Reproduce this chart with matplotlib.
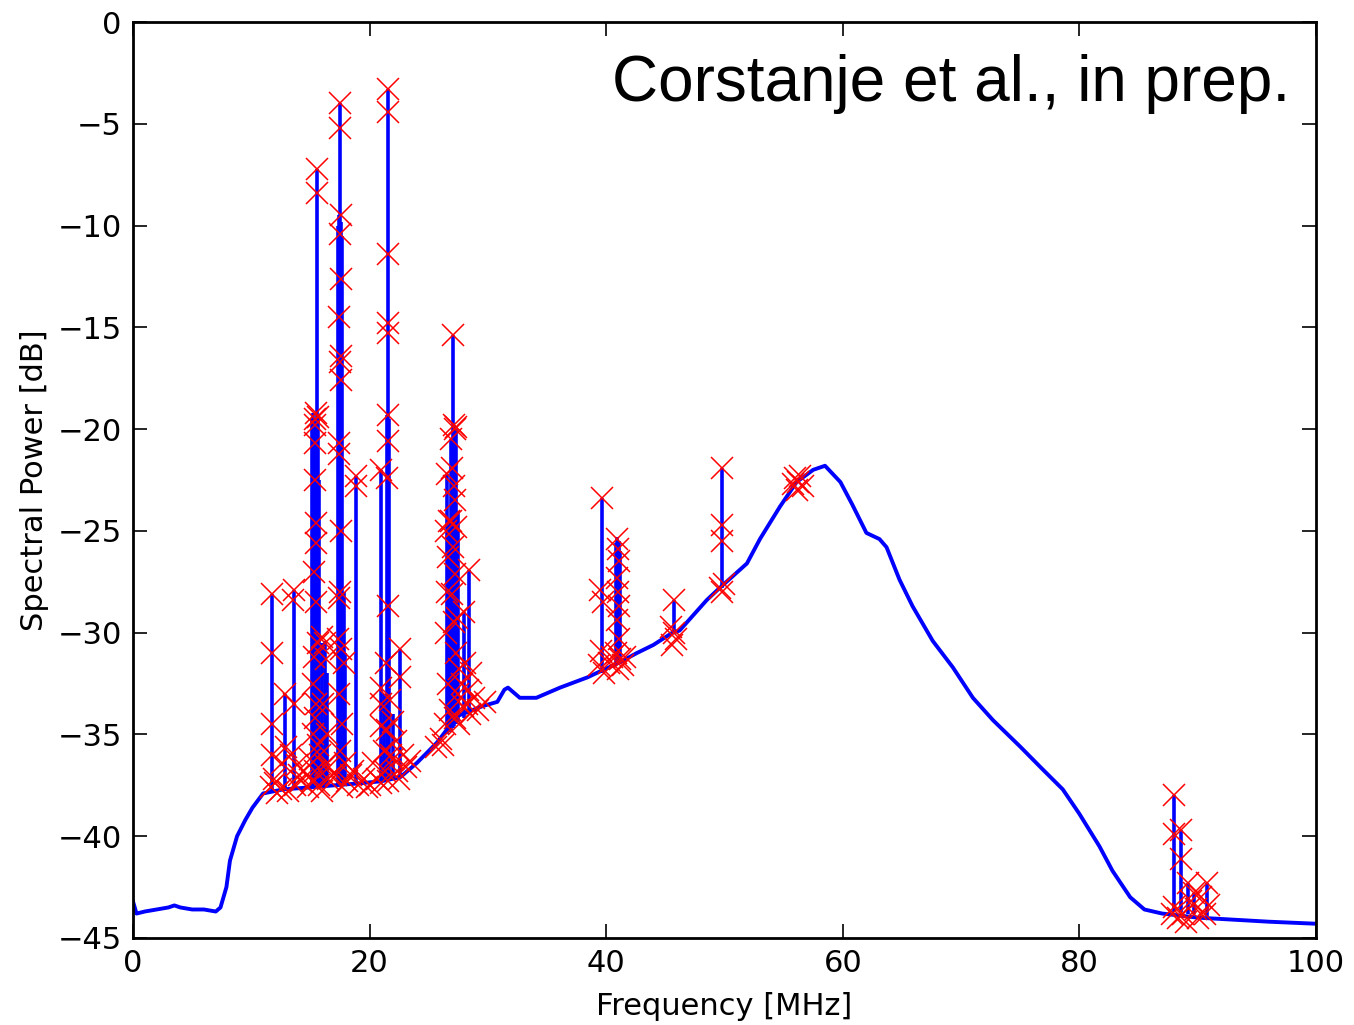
import matplotlib
matplotlib.use("Agg")
import matplotlib.pyplot as plt

# smooth spectrum, MHz / dB
base_f = [0, 0.3, 1, 2, 3, 3.5, 4, 5, 6, 7, 7.4, 7.9, 8.2, 8.8, 9.5, 10.1, 11.0,
          12.7, 15, 17, 19.2, 21, 22.6, 24.0, 25.7, 27.4, 29.6, 30.8, 31.4, 31.7,
          32.7, 34.1, 36.1, 38.4, 39.5, 41, 42.6, 44, 45.6, 46.2, 48.5, 49.6, 51.9,
          53.0, 54.7, 56.1, 57.5, 58.5, 59.8, 60.8, 62.0, 63.1, 63.7, 64.8, 65.9,
          67.6, 69.3, 71.0, 72.7, 75.0, 76.7, 78.6, 80.0, 81.7, 82.8, 84.3, 85.5,
          87, 90, 93, 96, 100]
base_db = [-43.2, -43.8, -43.7, -43.6, -43.5, -43.4, -43.5, -43.6, -43.6, -43.7, -43.5,
           -42.5, -41.2, -40.0, -39.2, -38.6, -37.9,
           -37.7, -37.6, -37.5, -37.4, -37.3, -37.1, -36.4, -35.4, -34.1, -33.6, -33.4, -32.8, -32.7,
           -33.2, -33.2, -32.7, -32.2, -31.9, -31.5, -31.0, -30.6, -30.0, -29.9, -28.4, -27.8, -26.6,
           -25.4, -23.8, -22.6, -22.0, -21.8, -22.6, -23.7, -25.1, -25.4, -25.8, -27.4, -28.7,
           -30.4, -31.7, -33.2, -34.3, -35.6, -36.6, -37.7, -38.9, -40.5, -41.7, -43.0, -43.6,
           -43.8, -44.0, -44.1, -44.2, -44.3]

# RFI lines: frequency, top and foot of each spike
spike_f = [11.75, 12.85, 13.6, 15.1, 15.2, 15.3, 15.45, 15.55, 15.65, 15.75, 16.0, 16.2,
           16.4, 17.3, 17.4, 17.5, 17.6, 17.7, 17.8, 17.95, 18.85, 21.0, 21.2, 21.45,
           21.55, 21.65, 22.0, 22.6, 26.55, 26.75, 26.9, 27.05, 27.15, 27.3, 27.45, 28.0,
           28.4, 39.65, 40.85, 40.95, 41.05, 41.15, 45.7, 49.75, 88.0, 88.55, 89.2,
           89.7, 90.8]
spike_top = [-28.1, -33.0, -27.9, -19.5, -19.2, -19.6, -19.9, -7.2, -19.3, -22.5, -30.5, -30.4,
             -32.0, -10.0, -9.5, -4.0, -9.8, -10.5, -28.0, -31.0, -22.3, -22.0, -33.0, -19.3,
             -3.3, -19.5, -34.0, -30.8, -22.2, -24.5, -20.5, -15.4, -19.8, -20.0, -24.0, -29.0,
             -26.9, -23.4, -25.6, -25.3, -25.5, -26.0, -28.4, -21.9, -38.0, -39.7, -42.3,
             -42.8, -42.3]
spike_foot = [-37.8, -37.7, -37.7, -37.6, -37.6, -37.6, -37.6, -37.6, -37.6, -37.6, -37.6, -37.5,
              -37.5, -37.5, -37.5, -37.5, -37.5, -37.5, -37.5, -37.5, -37.4, -37.3, -37.3, -37.2,
              -37.2, -37.2, -37.2, -37.1, -35.0, -34.9, -34.8, -34.7, -34.6, -34.5, -34.4, -34.2,
              -34.0, -32.0, -31.5, -31.5, -31.5, -31.5, -30.0, -27.8, -43.7, -43.7, -43.8,
              -43.8, -43.9]

# flagged channels (red crosses)
flag_f = [
    # 11-15 MHz
    11.75, 11.75, 11.75, 11.75, 11.7, 11.9, 12.85, 12.9, 12.6, 12.5, 12.2,
    13.6, 13.55, 13.6, 13.4, 13.9, 13.7, 14.2, 14.5, 14.8, 12.0, 13.1, 14.0,
    # 15-16.5 MHz
    15.55, 15.55, 15.45, 15.4, 15.35, 15.6, 15.4, 15.4, 15.5, 15.5, 15.3, 15.45,
    15.6, 15.3, 15.2, 15.5, 15.35, 15.2, 15.6, 15.0, 15.8, 15.4, 15.1, 15.7,
    16.0, 16.2, 16.3, 16.1, 16.4, 16.2, 16.5, 16.0, 16.8, 16.6,
    # 17-20 MHz
    17.5, 17.5, 17.55, 17.5, 17.55, 17.45, 17.55, 17.5, 17.6, 17.45, 17.4, 17.6,
    17.5, 17.45, 17.3, 17.6, 17.8, 17.4, 17.7, 17.5, 17.9, 17.2, 17.7, 18.1,
    18.85, 18.85, 18.6, 19.0, 19.5, 19.8, 18.4,
    # 20-23 MHz
    20.3, 20.6, 20.95, 21.0, 21.0, 20.95, 21.2, 21.55, 21.55, 21.6, 21.55, 21.6,
    21.6, 21.55, 21.5, 21.6, 21.4, 21.7, 21.5, 21.8, 21.3, 21.6, 22.0, 22.2,
    22.0, 22.3, 22.6, 22.6, 22.8, 23.1, 22.5, 21.0, 20.0, 23.4,
    # 25-30 MHz
    25.6, 26.0, 26.4, 26.55, 26.5, 26.6, 26.55, 26.5, 26.6, 26.7, 26.9, 27.05,
    27.1, 27.2, 27.3, 27.0, 27.1, 27.2, 26.9, 27.3, 27.05, 27.2, 27.0, 27.4,
    27.1, 27.3, 27.6, 27.8, 27.5, 27.9, 28.0, 28.1, 28.4, 28.3, 28.2, 28.5,
    27.6, 28.8, 29.2, 29.8, 26.8, 27.2, 26.2, 28.6,
    # 39-42 MHz
    39.65, 39.5, 39.7, 39.6, 39.4, 39.8, 40.2, 40.5, 40.9, 41.0, 41.1, 40.9,
    41.0, 41.1, 40.95, 41.05, 40.8, 41.2, 41.4, 41.0, 41.6,
    # 45-57 MHz
    45.7, 45.5, 45.7, 45.9, 45.6, 49.75, 49.75, 49.75, 49.6, 49.8, 50.0,
    55.8, 56.0, 56.2, 56.4, 56.6, 56.1,
    # 88-91 MHz
    88.0, 88.0, 88.55, 88.55, 88.0, 88.3, 88.8, 89.2, 89.4, 89.7, 89.9, 90.3,
    90.8, 90.6, 89.0, 90.0, 87.8, 91.0,
]
flag_db = [
    -28.1, -31.0, -34.5, -36.0, -37.6, -37.2, -33.0, -35.6, -36.4, -37.7, -37.9,
    -27.9, -28.4, -33.5, -36.0, -36.5, -37.5, -37.3, -36.8, -37.6, -37.4, -37.8, -37.0,
    -7.2, -8.4, -19.2, -19.5, -19.8, -19.4, -20.7, -22.5, -24.6, -25.6, -27.0, -28.5,
    -30.5, -31.2, -32.5, -33.5, -34.2, -35.0, -35.5, -36.2, -36.0, -36.8, -37.3, -37.5,
    -30.2, -30.5, -31.3, -33.5, -35.0, -36.5, -37.2, -37.8, -37.0, -36.6,
    -4.0, -5.2, -9.5, -10.4, -12.6, -14.5, -16.4, -16.7, -17.6, -20.7, -21.2, -25.0,
    -28.0, -28.3, -30.3, -30.8, -31.5, -33.0, -34.5, -35.8, -36.4, -37.0, -37.6, -37.3,
    -22.3, -22.8, -36.8, -37.5, -37.2, -37.6, -37.0,
    -36.4, -37.2, -22.0, -32.7, -33.5, -34.6, -35.8, -3.3, -4.4, -11.4, -14.8, -15.3,
    -19.3, -20.6, -22.4, -28.7, -31.5, -33.3, -34.8, -36.0, -36.8, -37.3, -34.4, -35.3,
    -36.2, -36.8, -30.8, -32.2, -36.0, -36.6, -37.2, -37.4, -37.5, -36.3,
    -35.6, -35.2, -34.5, -22.2, -25.0, -26.3, -28.0, -30.0, -32.5, -24.5, -20.5, -15.4,
    -19.8, -20.0, -19.9, -21.9, -22.8, -23.5, -24.5, -24.8, -25.8, -27.1, -28.1, -29.3,
    -29.5, -31.0, -31.8, -32.5, -33.0, -33.6, -29.0, -31.5, -26.9, -32.8, -33.5, -34.0,
    -34.5, -33.2, -33.8, -33.4, -33.8, -34.2, -35.5, -32.0,
    -23.4, -27.9, -28.5, -30.9, -31.6, -32.0, -31.5, -31.2, -25.4, -25.9, -26.5, -27.3,
    -28.0, -28.7, -29.4, -30.3, -31.0, -31.3, -31.6, -31.8, -31.2,
    -28.4, -29.7, -30.0, -30.3, -30.6, -21.9, -24.7, -25.5, -27.8, -28.0, -27.6,
    -22.7, -22.4, -22.6, -22.3, -22.8, -23.0,
    -38.0, -39.9, -39.7, -41.1, -43.5, -44.0, -43.8, -42.3, -43.2, -42.8, -43.6, -43.0,
    -42.3, -43.8, -44.2, -44.0, -43.8, -43.4,
]

plt.rcParams['font.family'] = ['DejaVu Sans']
fig = plt.figure(figsize=(13.54, 10.25), dpi=100)
ax = fig.add_axes([0.0982, 0.0849, 0.8737, 0.8936])

ax.plot(base_f, base_db, color='#0000ff', lw=2.8, zorder=2)
ax.vlines(spike_f, spike_foot, spike_top, color='#0000ff', lw=2.6, zorder=2)
ax.plot(flag_f, flag_db, 'x', color='#ff0000', ms=15.5, mew=1.1, zorder=3)

ax.set_xlim(0, 100)
ax.set_ylim(-45, 0)
ax.set_xticks([0, 20, 40, 60, 80, 100])
ax.set_yticks(range(-45, 1, 5))
ax.tick_params(direction='in', length=10, width=1.2, labelsize=22, pad=8,
               top=True, right=True)
for s in ax.spines.values():
    s.set_linewidth(2)

ax.set_xlabel('Frequency [MHz]', fontsize=22, labelpad=10)
ax.set_ylabel('Spectral Power [dB]', fontsize=22, labelpad=6)

ax.text(0.978, 0.965, 'Corstanje et al., in prep.', transform=ax.transAxes,
        ha='right', va='top', fontsize=46, family='Liberation Sans')

fig.savefig('out.png', dpi=100)
